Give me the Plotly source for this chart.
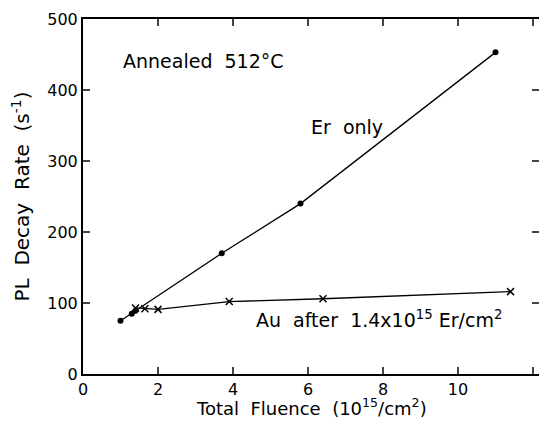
import plotly.graph_objects as go

er_x = [1.0, 1.3, 1.4, 3.7, 5.8, 11.0]
er_y = [75, 85, 89, 170, 240, 453]
au_x = [1.4, 1.65, 2.0, 3.9, 6.4, 11.4]
au_y = [93, 92, 91, 102, 106, 116]

x_ticks = [0, 2, 4, 6, 8, 10, 12]
y_ticks = [0, 100, 200, 300, 400, 500]

fam = "DejaVu Sans"
font = dict(family=fam, size=16, color="black")

fig = go.Figure()
fig.add_trace(go.Scatter(x=er_x, y=er_y, mode="lines+markers",
                         line=dict(color="black", width=1.3),
                         marker=dict(symbol="circle", size=6, color="black"),
                         showlegend=False, cliponaxis=False))
fig.add_trace(go.Scatter(x=au_x, y=au_y, mode="lines+markers",
                         line=dict(color="black", width=1.3),
                         marker=dict(symbol="x-thin", size=7, color="black",
                                     line=dict(color="black", width=1.5)),
                         showlegend=False, cliponaxis=False))

ann_font = dict(family=fam, size=19, color="black")
fig.add_annotation(x=1.0, y=441, text="Annealed  512°C", showarrow=False,
                   xanchor="left", yanchor="middle", font=ann_font)
fig.add_annotation(x=7.05, y=348, text="Er  only", showarrow=False,
                   xanchor="center", yanchor="middle", font=ann_font)
fig.add_annotation(x=4.55, y=77, text="Au  after  1.4x10<sup>15</sup> Er/cm<sup>2</sup>", showarrow=False,
                   xanchor="left", yanchor="middle", font=ann_font)
# x-axis title as a paper annotation for exact placement
fig.add_annotation(x=0.5, xref="paper", y=-0.1296, yref="paper",
                   text="Total  Fluence  (10<sup>15</sup>/cm<sup>2</sup>)", showarrow=False,
                   xanchor="center", yanchor="bottom", borderpad=0,
                   font=dict(family=fam, size=18, color="black"))

fig.update_layout(
    width=531, height=412,
    margin=dict(l=75, r=0, t=11, b=46),
    plot_bgcolor="white", paper_bgcolor="white",
    font=font,
    xaxis=dict(range=[0, 12.16], tickvals=x_ticks, ticks="inside", ticklen=7, tickwidth=1.5,
               showline=True, linewidth=2, linecolor="black", mirror="ticks",
               showgrid=False, zeroline=False, automargin=False),
    yaxis=dict(range=[0, 500], tickvals=y_ticks, ticks="inside", ticklen=7, tickwidth=1.5,
               showline=True, linewidth=2, linecolor="black", mirror="ticks",
               showgrid=False, zeroline=False, automargin=False,
               title=dict(text="PL  Decay  Rate  (s<sup>-1</sup>)", standoff=12,
                          font=dict(size=20))),
)

fig.write_html("out.html")
